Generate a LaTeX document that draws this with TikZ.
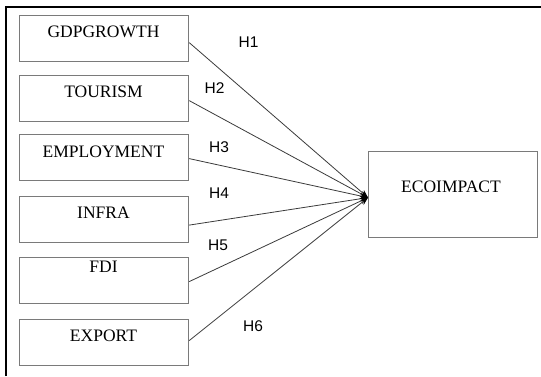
\documentclass[tikz,border=0pt]{standalone}
\usepackage{fontspec}
\setmainfont{Liberation Serif}
\newfontfamily\labelfont{Liberation Sans}
\usetikzlibrary{arrows.meta}
\definecolor{boxgray}{HTML}{7A7A7A}
\definecolor{linegray}{HTML}{3A3A3A}
\begin{document}
\begin{tikzpicture}[x=1pt,y=-1pt,
  box/.style={draw=boxgray, line width=1.2pt, minimum width=169pt, minimum height=46pt, inner sep=0pt, anchor=north west},
  bigbox/.style={draw=boxgray, line width=1.2pt, minimum width=169pt, minimum height=86pt, inner sep=0pt, anchor=north west},
  boxtext/.style={inner sep=0pt, font=\fontsize{17.5}{20}\selectfont},
  hlabel/.style={inner sep=0pt, font=\labelfont\fontsize{15.5}{18}\selectfont},
  conn/.style={draw=linegray, line width=0.8pt, -{Stealth[length=8pt,width=6pt,black]}},
  frame/.style={draw=black, line width=1.3pt}]
\useasboundingbox (0,0) rectangle (541,376);
% outer frame (top and left edges visible)
\draw[frame] (6,376) -- (6,7) -- (541,7);
% boxes
\node[box] (b1) at (19,15) {};
\node[box] (b2) at (19,75) {};
\node[box] (b3) at (19,134) {};
\node[box] (b4) at (19,196) {};
\node[box] (b5) at (19,257) {};
\node[box] (b6) at (19,319) {};
\node[bigbox] (eco) at (368,151) {};
% box texts
\node[boxtext] (t1) at (103.5,32) {GDPGROWTH};
\node[boxtext] (t2) at (103.5,92) {TOURISM};
\node[boxtext] (t3) at (103.5,152) {EMPLOYMENT};
\node[boxtext] (t4) at (103.5,213) {INFRA};
\node[boxtext] (t5) at (103.5,267) {FDI};
\node[boxtext] (t6) at (103.5,336) {EXPORT};
\node[boxtext] (te) at (451,187) {ECOIMPACT};
% connectors
\draw[conn] ([yshift=-4pt]b1.east) -- ([yshift=-3pt]eco.west);
\draw[conn] ([yshift=-2pt]b2.east) -- ([yshift=-3pt]eco.west);
\draw[conn] ([yshift=-1pt]b3.east) -- ([yshift=-3pt]eco.west);
\draw[conn] ([yshift=-5.5pt]b4.east) -- ([yshift=-3pt]eco.west);
\draw[conn] ([yshift=-1pt]b5.east) -- ([yshift=-3pt]eco.west);
\draw[conn] ([yshift=2pt]b6.east) -- ([yshift=-3pt]eco.west);
% hypothesis labels
\node[hlabel] (h1) at (248.5,42) {H1};
\node[hlabel] (h2) at (214.5,88) {H2};
\node[hlabel] (h3) at (219,147.5) {H3};
\node[hlabel] (h4) at (219,193) {H4};
\node[hlabel] (h5) at (218,245) {H5};
\node[hlabel] (h6) at (253,326.5) {H6};
\end{tikzpicture}
\end{document}
